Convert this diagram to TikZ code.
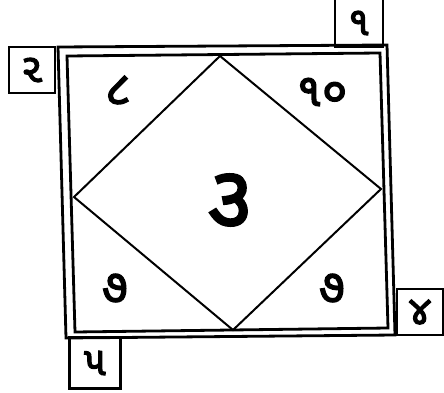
\documentclass[tikz,border=0pt]{standalone}
\usepackage{fontspec}
\newfontfamily\gujfont[Script=Gujarati,FakeBold=3]{Noto Sans Gujarati UI}
\begin{document}
\begin{tikzpicture}[x=1pt,y=-1pt,
  frame/.style={line width=2.8pt,line join=miter},
  diag/.style={line width=2pt},
  numbox/.style={draw,line width=2.8pt,minimum width=#1,minimum height=#1,inner sep=0pt,font=\gujfont\fontsize{40}{40}\selectfont},
  lab/.style={font=\gujfont\fontsize{46}{46}\selectfont,inner sep=0pt},
  biglab/.style={font=\gujfont\fontsize{84}{84}\selectfont,inner sep=0pt}]
\useasboundingbox (0,0) rectangle (444,393);
\fill[white] (0,0) rectangle (444,393);
% outer and inner frames
\coordinate (o1) at (58,47); \coordinate (o2) at (387,45);
\coordinate (o3) at (395,335); \coordinate (o4) at (66,338);
\coordinate (i1) at (67,56); \coordinate (i2) at (380,53);
\coordinate (i3) at (388,328); \coordinate (i4) at (75,332);
\draw[frame] (o1) -- (o2) -- (o3) -- (o4) -- cycle;
\draw[frame] (i1) -- (i2) -- (i3) -- (i4) -- cycle;
% diamond
\coordinate (dt) at (220,56); \coordinate (dr) at (381,189);
\coordinate (db) at (233,330); \coordinate (dl) at (74,197);
\draw[diag] (dt) -- (dr) -- (db) -- (dl) -- cycle;
% corner boxes
\node[numbox=46pt] (b2) at (32,70) {૨};
\node[numbox=48pt] (b1) at (359,23) {૧};
\node[numbox=46pt] (b4) at (420,312) {૪};
\node[numbox=51pt] (b5) at (95,363) {૫};
% house labels
\node[lab] (h8) at (118,90) {૮};
\node[lab] (h10) at (322,92) {૧૦};
\node[biglab] (h3) at (230,200) {૩};
\node[lab] (h7a) at (115,288) {૭};
\node[lab] (h7b) at (332,288) {૭};
\end{tikzpicture}
\end{document}
